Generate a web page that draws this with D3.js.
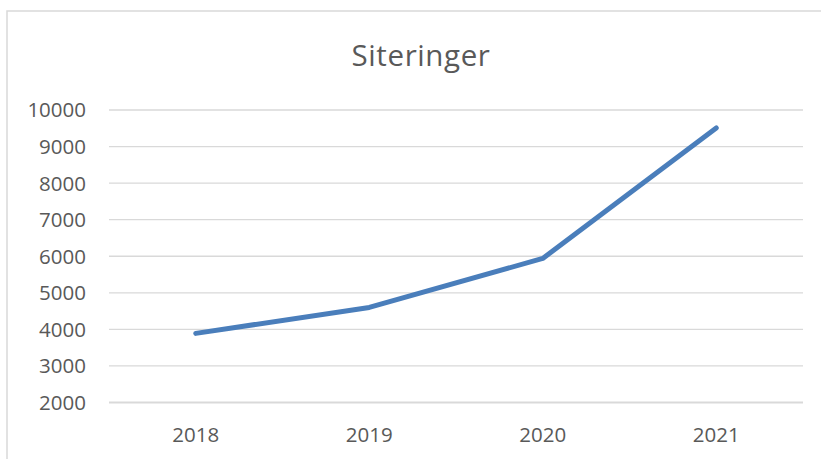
<!DOCTYPE html>
<html>
<head>
<meta charset="utf-8">
<script src="https://cdn.jsdelivr.net/npm/d3@7"></script>
<style>
  body { margin: 0; background: #fff; }
  text { font-family: "Open Sans", sans-serif; fill: #595959; }
</style>
</head>
<body>
<main></main>
<script>
// データ
const title = "Siteringer";
const years = ["2018", "2019", "2020", "2021"];
const citations = [3890, 4600, 5940, 9510];
const yTicks = [2000, 3000, 4000, 5000, 6000, 7000, 8000, 9000, 10000];

const width = 821, height = 459;
const svg = d3.select("main").append("svg")
    .attr("width", width)
    .attr("height", height);

// 外枠
svg.append("path")
    .attr("d", "M7,470 V11 H830")
    .attr("fill", "none")
    .attr("stroke", "#d9d9d9")
    .attr("stroke-width", 1.5);

const x = d3.scaleBand().domain(years).range([109, 803]);
const y = d3.scaleLinear().domain([2000, 10000]).range([402.5, 110]);

// グリッド線
svg.append("g")
    .selectAll("line")
    .data(yTicks)
    .enter().append("line")
    .attr("x1", 109)
    .attr("x2", 803)
    .attr("y1", d => y(d))
    .attr("y2", d => y(d))
    .attr("stroke", "#d9d9d9")
    .attr("stroke-width", d => d === 2000 ? 2.2 : 1.3);

// Y軸ラベル
svg.append("g")
    .selectAll("text")
    .data(yTicks)
    .enter().append("text")
    .attr("x", 86)
    .attr("y", d => y(d))
    .attr("dy", "0.36em")
    .attr("text-anchor", "end")
    .style("font-size", "20.5px")
    .text(d => d);

// X軸ラベル
svg.append("g")
    .selectAll("text")
    .data(years)
    .enter().append("text")
    .attr("x", d => x(d) + x.bandwidth() / 2)
    .attr("y", 442)
    .attr("text-anchor", "middle")
    .style("font-size", "20.5px")
    .text(d => d);

// 折れ線
const line = d3.line()
    .x((d, i) => x(years[i]) + x.bandwidth() / 2)
    .y(d => y(d));

svg.append("path")
    .datum(citations)
    .attr("d", line)
    .attr("fill", "none")
    .attr("stroke", "#4a7ebb")
    .attr("stroke-width", 5)
    .attr("stroke-linecap", "round")
    .attr("stroke-linejoin", "round");

// タイトル
svg.append("text")
    .attr("x", 421)
    .attr("y", 66)
    .attr("text-anchor", "middle")
    .style("font-size", "29.5px")
    .style("letter-spacing", "0.6px")
    .text(title);
</script>
</body>
</html>
